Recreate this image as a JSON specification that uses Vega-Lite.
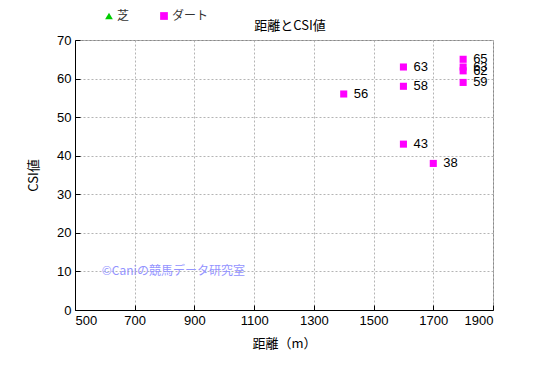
{
  "$schema": "https://vega.github.io/schema/vega-lite/v6.json",
  "width": 418,
  "height": 270,
  "autosize": "none",
  "padding": {"left": 75, "top": 40, "right": 52, "bottom": 67},
  "background": "white",
  "title": {"text": "距離とCSI値", "font": "Noto Sans CJK JP", "fontSize": 13, "fontWeight": "normal", "color": "#000000", "anchor": "middle", "frame": "group", "orient": "top", "offset": 0, "dx": 6, "dy": 23},
  "config": {
    "view": {"stroke": "#888888", "strokeWidth": 1},
    "font": "Liberation Sans",
    "title": {"baseline": "bottom"},
    "axis": {"gridColor": "#b4b4b4", "gridDash": [2, 2], "gridWidth": 1, "domainColor": "#000000", "tickColor": "#000000", "labelColor": "#000000", "titleColor": "#000000", "labelFontSize": 13, "titleFontSize": 13, "titleFontWeight": "normal", "labelFont": "Liberation Sans", "titleFont": "Noto Sans CJK JP", "labelOverlap": false}
  },
  "datasets": {
    "pts": [
      {"距離": 1400, "CSI": 56, "種別": "ダート"},
      {"距離": 1600, "CSI": 63, "種別": "ダート"},
      {"距離": 1600, "CSI": 58, "種別": "ダート"},
      {"距離": 1600, "CSI": 43, "種別": "ダート"},
      {"距離": 1700, "CSI": 38, "種別": "ダート"},
      {"距離": 1800, "CSI": 65, "種別": "ダート"},
      {"距離": 1800, "CSI": 63, "種別": "ダート"},
      {"距離": 1800, "CSI": 62, "種別": "ダート"},
      {"距離": 1800, "CSI": 59, "種別": "ダート"}
    ],
    "mark": [
      {"x": 590, "y": 10, "label": "©Caniの競馬データ研究室"}
    ]
  },
  "encoding": {
    "x": {"field": "距離", "type": "quantitative", "scale": {"domain": [500, 1900], "nice": false, "zero": false}, "axis": {"values": [500, 700, 900, 1100, 1300, 1500, 1700, 1900], "format": "d", "title": "距離（m）", "tickSize": -5, "labelPadding": 9, "titlePadding": 10, "grid": true}},
    "y": {"field": "CSI", "type": "quantitative", "scale": {"domain": [0, 70], "nice": false}, "axis": {"values": [0, 10, 20, 30, 40, 50, 60, 70], "format": "d", "title": "CSI値", "tickSize": -5, "labelPadding": 9, "titlePadding": 16, "grid": true}}
  },
  "layer": [
    {
      "data": {"name": "pts"},
      "mark": {"type": "point", "filled": true, "opacity": 1, "size": 50},
      "encoding": {
        "shape": {"field": "種別", "type": "nominal", "scale": {"domain": ["芝", "ダート"], "range": ["triangle-up", "square"]}, "legend": {"orient": "none", "legendX": 28, "legendY": -30, "direction": "horizontal", "title": null, "labelFont": "Noto Sans CJK JP", "labelFontSize": 12, "labelColor": "#333333", "symbolSize": 60, "columnPadding": 28, "labelOffset": 2, "symbolStrokeWidth": 0}},
        "color": {"field": "種別", "type": "nominal", "scale": {"domain": ["芝", "ダート"], "range": ["#00cc00", "#ff00ff"]}, "legend": {"orient": "none", "legendX": 28, "legendY": -30, "direction": "horizontal", "title": null, "labelFont": "Noto Sans CJK JP", "labelFontSize": 12, "labelColor": "#333333", "symbolSize": 60, "columnPadding": 28, "labelOffset": 2, "symbolStrokeWidth": 0}}
      }
    },
    {
      "data": {"name": "pts"},
      "mark": {"type": "text", "align": "left", "baseline": "middle", "dx": 10, "fontSize": 13, "font": "Liberation Sans", "color": "#000000"},
      "encoding": {
        "text": {"field": "CSI", "type": "quantitative"}
      }
    },
    {
      "data": {"name": "mark"},
      "mark": {"type": "text", "align": "left", "baseline": "middle", "fontSize": 12, "font": "Noto Sans CJK JP", "color": "#9494ff"},
      "encoding": {
        "x": {"field": "x", "type": "quantitative"},
        "y": {"field": "y", "type": "quantitative"},
        "text": {"field": "label"}
      }
    }
  ]
}
